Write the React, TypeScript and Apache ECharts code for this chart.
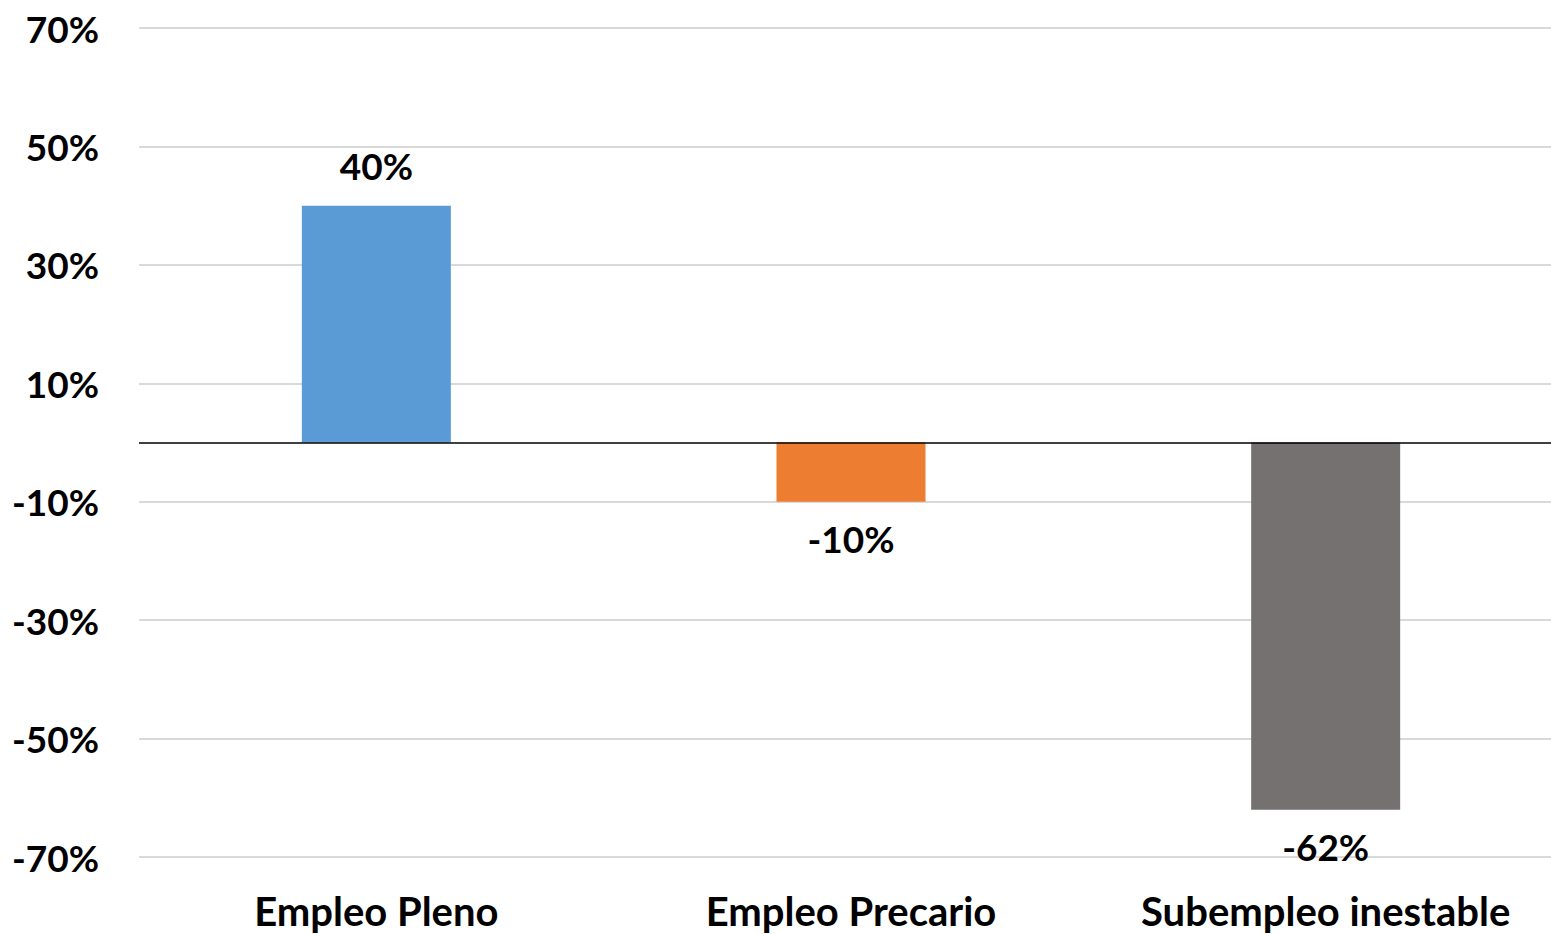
import React, { useEffect, useRef } from "react";
import * as echarts from "echarts";

const categories = ["Empleo Pleno", "Empleo Precario", "Subempleo inestable"];
const values = [40, -10, -62];
const colors = ["#5B9BD5", "#ED7D31", "#767171"];
const FONT = "Lato";

export default function App() {
  const ref = useRef<HTMLDivElement>(null);
  useEffect(() => {
    if (!ref.current) return;
    const chart = echarts.init(ref.current, undefined, { renderer: "svg" });
    chart.setOption({
      animation: false,
      grid: { left: 139, right: 0, top: 28, bottom: 77, containLabel: false },
      xAxis: {
        type: "category",
        data: categories,
        axisLine: { show: false, onZero: false },
        axisTick: { show: false },
        axisLabel: {
          interval: 0,
          margin: 34,
          color: "#000",
          fontFamily: FONT,
          fontWeight: "bold",
          fontSize: 40,
          lineHeight: 40,
        },
      },
      yAxis: {
        type: "value",
        min: -70,
        max: 70,
        interval: 10,
        axisLine: { show: false },
        axisTick: { show: false },
        splitLine: {
          lineStyle: { color: ["#d9d9d9", "rgba(0,0,0,0)"], width: 2 },
        },
        axisLabel: {
          margin: 40,
          color: "#000",
          fontFamily: FONT,
          fontWeight: "bold",
          fontSize: 37,
          formatter: (v: number) => (Math.abs(v) % 20 === 10 ? v + "%" : ""),
        },
      },
      series: [
        {
          type: "bar",
          barWidth: 149,
          data: values.map((v, i) => ({
            value: v,
            itemStyle: { color: colors[i] },
            label: {
              show: true,
              position: v >= 0 ? "top" : "bottom",
              distance: v >= 0 ? 22 : 18,
              formatter: (p: any) => p.value + "%",
              color: "#000",
              fontFamily: FONT,
              fontWeight: "bold",
              fontSize: 37,
            },
          })),
          markLine: {
            silent: true,
            symbol: "none",
            label: { show: false },
            lineStyle: { color: "#000", width: 1.5, type: "solid" },
            data: [{ yAxis: 0 }],
          },
        },
      ],
    });
    return () => chart.dispose();
  }, []);
  return (
    <div
      style={{ position: "fixed", left: 0, top: 0, width: 1551, height: 934, overflow: "hidden", background: "#fff" }}
    >
      <div ref={ref} style={{ width: 1563, height: 934 }} />
    </div>
  );
}
